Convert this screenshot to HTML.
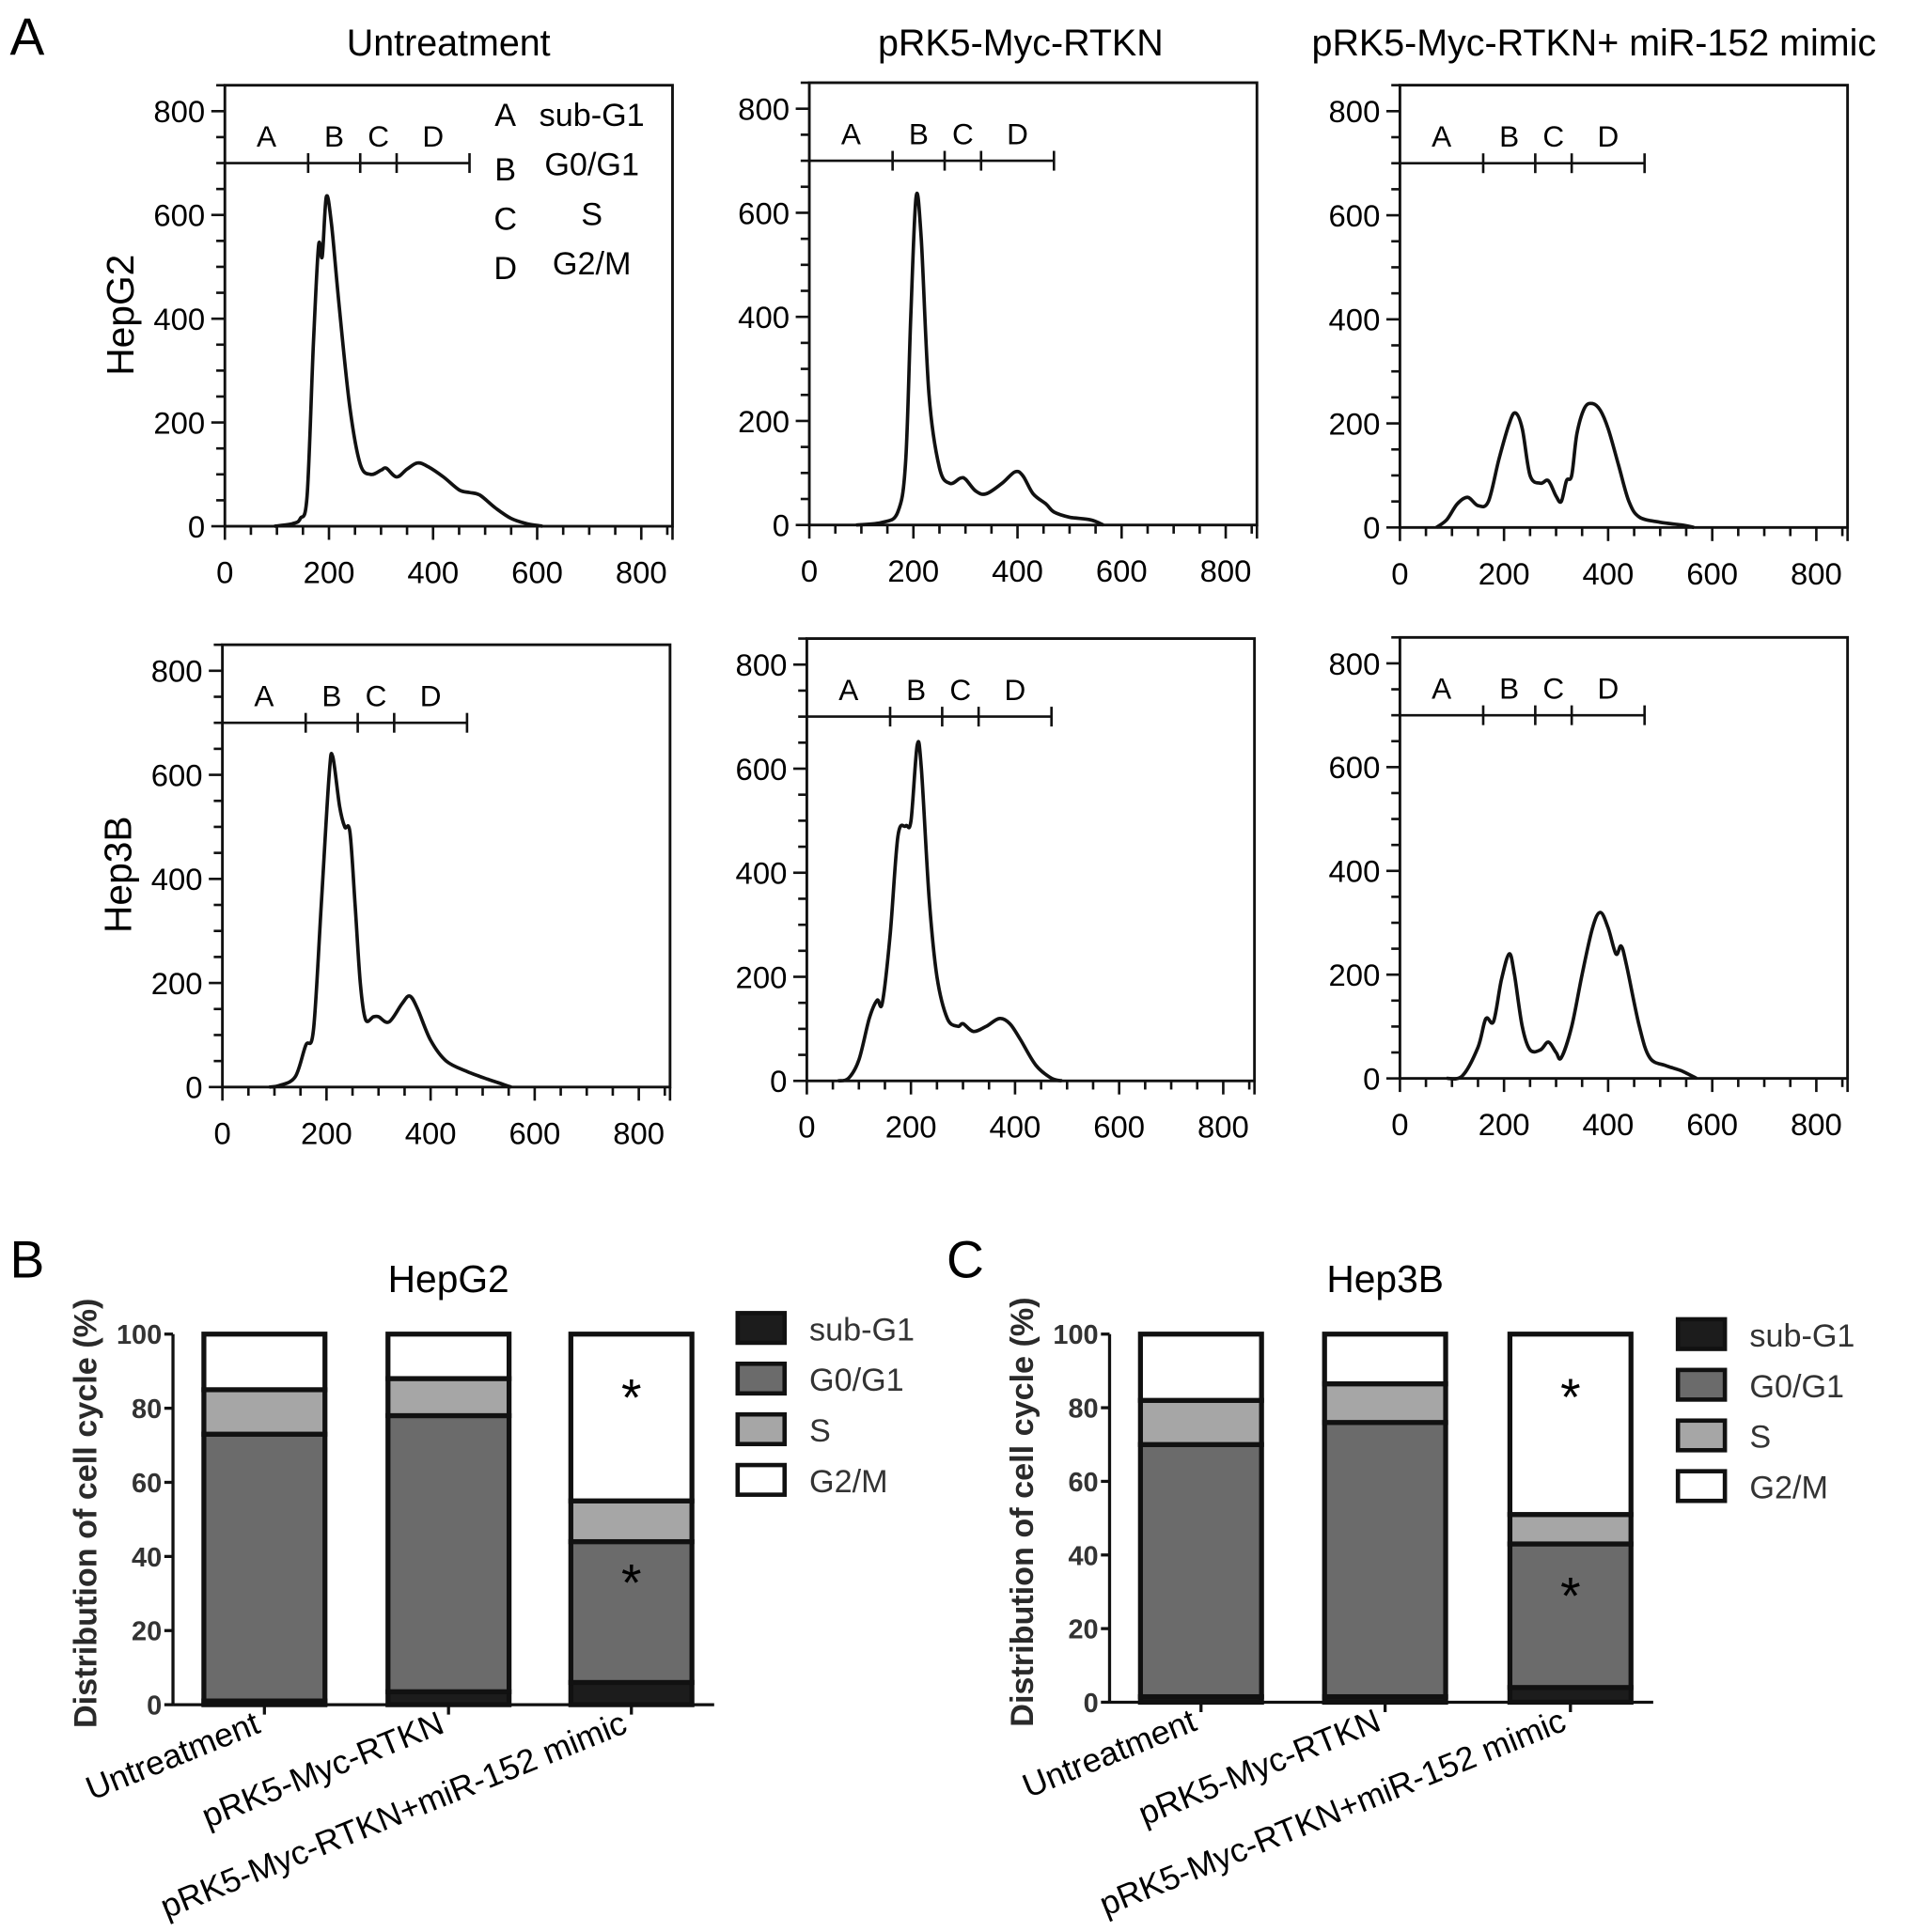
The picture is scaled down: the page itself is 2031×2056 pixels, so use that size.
<!DOCTYPE html>
<html><head><meta charset="utf-8">
<style>
html,body{margin:0;padding:0;background:#fff;}
svg{display:block;font-family:"Liberation Sans",Arial,sans-serif;}
</style></head>
<body>
<svg id="fig" width="2031" height="2056" viewBox="0 0 1545 1564" xmlns="http://www.w3.org/2000/svg">
<text x="8" y="44" font-size="42">A</text>
<text x="363" y="45" font-size="30" text-anchor="middle">Untreatment</text>
<text x="826" y="45" font-size="30" text-anchor="middle">pRK5-Myc-RTKN</text>
<text x="1290" y="45" font-size="30" text-anchor="middle">pRK5-Myc-RTKN+ miR-152 mimic</text>
<text transform="translate(108,255) rotate(-90)" font-size="31" text-anchor="middle">HepG2</text>
<text transform="translate(106,708) rotate(-90)" font-size="31" text-anchor="middle">Hep3B</text>
<text x="8" y="1034" font-size="42">B</text>
<text x="766" y="1034" font-size="42">C</text>
<g id="root"></g>
</svg>
<script>
// ---- Histogram data (x = DNA content, y = count) ----
const histX1 = [95,130,145,158,170,180,187,195,205,220,240,260,280,300,310,330,350,370,390,420,450,470,490,520,550,580,610];
const histY1 = [0,5,15,60,350,540,520,635,580,420,230,120,100,108,112,95,110,122,115,95,70,65,60,35,15,5,0];
const histX2 = [90,140,170,185,195,205,215,230,250,270,290,300,320,340,370,395,410,430,455,470,500,540,565];
const histY2 = [0,5,25,120,400,630,550,250,110,80,90,88,65,60,80,102,95,60,40,25,15,10,0];
const histX3 = [70,90,110,130,150,170,190,210,222,235,250,270,285,300,310,320,330,340,355,370,385,400,420,440,460,500,540,565];
const histY3 = [0,15,45,58,42,50,130,200,220,190,100,85,90,60,50,90,100,180,230,238,225,190,120,50,20,10,5,0];
const histX4 = [90,110,140,160,175,190,205,212,225,235,245,255,265,275,290,300,320,345,360,375,400,430,470,510,555];
const histY4 = [0,3,20,80,110,350,600,635,540,500,490,350,200,130,135,135,125,160,175,150,90,50,30,15,0];
const histX5 = [60,80,100,120,135,145,160,175,190,200,212,220,235,250,270,290,300,320,345,370,390,410,440,470,490];
const histY5 = [0,5,40,120,155,150,280,470,490,500,645,600,350,200,120,105,110,95,105,120,110,80,30,5,0];
const histX6 = [90,120,150,165,180,195,210,220,235,250,270,285,300,310,330,350,370,385,400,415,425,435,460,480,510,540,570];
const histY6 = [0,5,60,115,110,190,240,200,100,55,55,70,50,40,100,200,290,320,290,240,255,220,100,40,25,15,0];
const gateTicks = [0,160,260,330,470];
const gateLabels = ["A","B","C","D"];
const gateLabelX = [80,210,295,400];
const xTickLabels = [0,200,400,600,800];
const yTickLabels = [0,200,400,600,800];

// ---- Bar chart data (%) ----
const barCategories = ["Untreatment","pRK5-Myc-RTKN","pRK5-Myc-RTKN+miR-152 mimic"];
const phaseNames = ["sub-G1","G0/G1","S","G2/M"];
const hepg2SubG1 = [1,3.5,6];
const hepg2G0G1 = [72,74.5,38];
const hepg2S = [12,10,11];
const hepg2G2M = [15,12,45];
const hep3bSubG1 = [1.5,1.5,4];
const hep3bG0G1 = [68.5,74.5,39];
const hep3bS = [12,10.5,8];
const hep3bG2M = [18,13.5,49];
const barTicks = [0,20,40,60,80,100];

const NS="http://www.w3.org/2000/svg";
const root=document.getElementById('root');
function mk(tag,attrs,parent,text){const e=document.createElementNS(NS,tag);for(const k in attrs)e.setAttribute(k,attrs[k]);if(text!==undefined)e.textContent=text;(parent||root).appendChild(e);return e;}

function smoothPath(pts){
  let d="M"+pts[0][0]+","+pts[0][1];
  for(let i=0;i<pts.length-1;i++){
    const p0=pts[Math.max(0,i-1)],p1=pts[i],p2=pts[i+1],p3=pts[Math.min(pts.length-1,i+2)];
    const c1=[p1[0]+(p2[0]-p0[0])/6,p1[1]+(p2[1]-p0[1])/6];
    const c2=[p2[0]-(p3[0]-p1[0])/6,p2[1]-(p3[1]-p1[1])/6];
    d+=" C"+c1[0].toFixed(1)+","+c1[1].toFixed(1)+" "+c2[0].toFixed(1)+","+c2[1].toFixed(1)+" "+p2[0].toFixed(1)+","+p2[1].toFixed(1);
  }
  return d;
}

function histPanel(name,x0,x800,y0,y800,xs,ys,legend){
  const sx=v=>x0+(x800-x0)*v/800;
  const sy=v=>y0-(y0-y800)*v/800;
  const g=mk('g',{});
  
  
  const fr=mk('rect',{x:sx(0),y:sy(850),width:sx(860)-sx(0),height:sy(0)-sy(850),fill:'none',stroke:'#111','stroke-width':2.2},g);
  
  
  for(let v=0;v<=850;v+=50){
    const L=(v%200===0)?11:7;
    mk('line',{x1:sx(0)-L,x2:sx(0),y1:sy(v),y2:sy(v),stroke:'#111','stroke-width':2},g);
    mk('line',{x1:sx(v),x2:sx(v),y1:sy(0),y2:sy(0)+L,stroke:'#111','stroke-width':2},g);
  }
  mk('line',{x1:sx(860),x2:sx(860),y1:sy(0),y2:sy(0)+11,stroke:'#111','stroke-width':2},g);
  yTickLabels.forEach(v=>{const t=mk('text',{x:sx(0)-16,y:sy(v)+9,'font-size':25,'text-anchor':'end'},g,String(v));
    
    });
  xTickLabels.forEach(v=>{const t=mk('text',{x:sx(v),y:sy(0)+46,'font-size':25,'text-anchor':'middle'},g,String(v));
    
    });
  const gl=mk('line',{x1:sx(0),x2:sx(gateTicks[gateTicks.length-1]),y1:sy(700),y2:sy(700),stroke:'#111','stroke-width':2},g);
  
  
  gateTicks.slice(1).forEach(v=>mk('line',{x1:sx(v),x2:sx(v),y1:sy(700)-8,y2:sy(700)+8,stroke:'#111','stroke-width':2},g));
  gateLabels.forEach((l,i)=>{const t=mk('text',{x:sx(gateLabelX[i]),y:sy(732),'font-size':24,'text-anchor':'middle'},g,l);
    
    });
  const pts=xs.map((x,i)=>[sx(x),sy(ys[i])]);
  const p=mk('path',{d:smoothPath(pts),fill:'none',stroke:'#111','stroke-width':2.8,'stroke-linejoin':'round'},g);
  
  
  if(legend){
    const names=["sub-G1","G0/G1","S","G2/M"];
    names.forEach((n,i)=>{
      const yy=sy(0)-324+40*i;
      const a=mk('text',{x:409,y:yy+(i>0?4:0),'font-size':26,'text-anchor':'middle'},g,gateLabels[i]);
      
      
      const b=mk('text',{x:479,y:yy,'font-size':26,'text-anchor':'middle'},g,n);
      
      
    });
  }
}
histPanel('hist-hepg2-untreatment',182,519,426,90,histX1,histY1,true);
histPanel('hist-hepg2-prk5',655,992,425,88,histX2,histY2,false);
histPanel('hist-hepg2-mimic',1133,1470,427,90,histX3,histY3,false);
histPanel('hist-hep3b-untreatment',180,517,880,543,histX4,histY4,false);
histPanel('hist-hep3b-prk5',653,990,875,538,histX5,histY5,false);
histPanel('hist-hep3b-mimic',1133,1470,873,537,histX6,histY6,false);

const fills=['#1c1c1c','#6b6b6b','#a6a6a6','#ffffff'];
function barChart(name,title,axX,y0,y100,barX,barW,series,legX,legY,stars){
  const sy=v=>y0-(y0-y100)*v/100;
  const g=mk('g',{});
  
  
  const tt=mk('text',{x:barX[1]+barW/2,y:1046,'font-size':31,'text-anchor':'middle'},g,title);
  
  
  const yt=mk('text',{transform:'translate('+(axX-62)+','+((y0+y100)/2-5)+') rotate(-90)','font-size':26,'font-weight':'bold','text-anchor':'middle','fill':'#2a2a2a'},g,'Distribution of cell cycle (%)');
  
  
  mk('line',{x1:axX,x2:axX,y1:y100,y2:y0,stroke:'#111','stroke-width':2.5},g);
  mk('line',{x1:axX,x2:barX[2]+barW+18,y1:y0,y2:y0,stroke:'#111','stroke-width':2.5},g);
  barTicks.forEach(v=>{
    mk('line',{x1:axX-7,x2:axX,y1:sy(v),y2:sy(v),stroke:'#111','stroke-width':2.5},g);
    const t=mk('text',{x:axX-9,y:sy(v)+8,'font-size':22,'font-weight':'bold','text-anchor':'end',fill:'#333'},g,String(v));
    
    
  });
  barCategories.forEach((c,i)=>{
    let acc=0;
    series.forEach((s,k)=>{
      const r=mk('rect',{x:barX[i],y:sy(acc+s[i]),width:barW,height:sy(acc)-sy(acc+s[i]),fill:fills[k],stroke:'#111','stroke-width':4},g);
      
      
      acc+=s[i];
    });
    const cx=barX[i]+barW/2;
    mk('line',{x1:cx,x2:cx,y1:y0,y2:y0+8,stroke:'#111','stroke-width':2.5},g);
    const t=mk('text',{transform:'translate('+(cx-2)+','+(y0+22)+') rotate(-22)','font-size':27,'text-anchor':'end'},g,c);
    
    
  });
  stars.forEach(sv=>{
    const t=mk('text',{x:barX[2]+barW/2,y:sy(sv)+24,'font-size':42,'text-anchor':'middle'},g,'*');
    
    
  });
  phaseNames.forEach((n,k)=>{
    const r=mk('rect',{x:legX,y:legY+41*k,width:38,height:24,fill:fills[k],stroke:'#111','stroke-width':3.5},g);
    
    
    const t=mk('text',{x:legX+58,y:legY+41*k+22,'font-size':26,fill:'#333'},g,n);
    
    
  });
}
barChart('bar-chart-hepg2','HepG2',140,1380,1080,[165,314,462],98,[hepg2SubG1,hepg2G0G1,hepg2S,hepg2G2M],597,1063,[86,36]);
barChart('bar-chart-hep3b','Hep3B',898,1378,1080,[923,1072,1222],98,[hep3bSubG1,hep3bG0G1,hep3bS,hep3bG2M],1358,1068,[86,32]);
</script>
</body></html>
